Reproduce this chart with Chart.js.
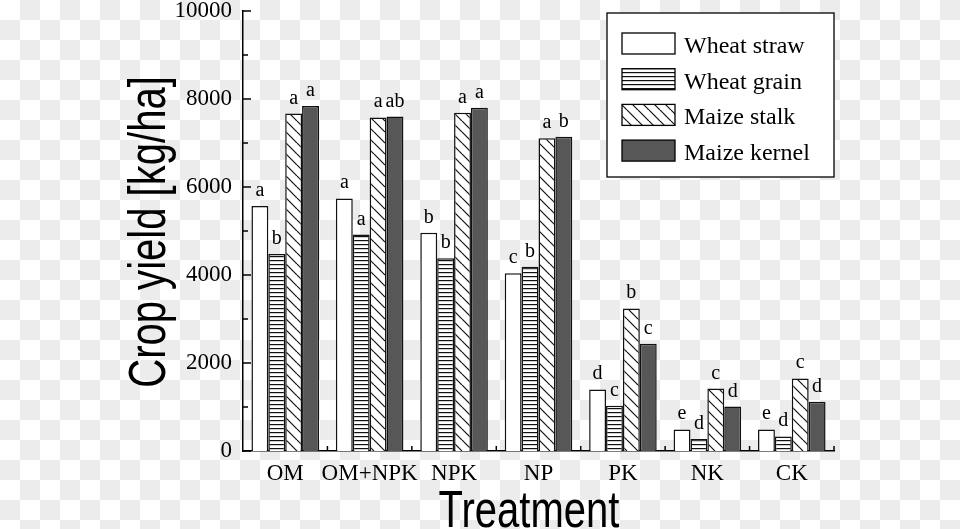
<!DOCTYPE html>
<html>
<head>
<meta charset="utf-8">
<script src="https://cdn.jsdelivr.net/npm/chart.js@4/dist/chart.umd.min.js"></script>
<style>
  html, body { margin: 0; padding: 0; }
  body {
    width: 960px; height: 529px; overflow: hidden;
    background: repeating-conic-gradient(#ececec 0% 25%, #ffffff 0% 50%) 0 0 / 40px 40px;
  }
  canvas { display: block; }
</style>
</head>
<body>
<canvas id="yield" width="960" height="529"></canvas>
<script>
const treatments = ['OM', 'OM+NPK', 'NPK', 'NP', 'PK', 'NK', 'CK'];
const seriesNames = ['Wheat straw', 'Wheat grain', 'Maize stalk', 'Maize kernel'];

const wheatStraw  = [5570, 5740, 4960, 4040, 1400, 490, 490];
const wheatGrain  = [4480, 4920, 4380, 4190, 1030, 270, 330];
const maizeStalk  = [7670, 7580, 7690, 7110, 3240, 1420, 1650];
const maizeKernel = [7840, 7600, 7800, 7140, 2440, 1010, 1120];

// significance letters above each bar
const strawSig  = ['a', 'a', 'b', 'c', 'd', 'e', 'e'];
const grainSig  = ['b', 'a', 'b', 'b', 'c', 'd', 'd'];
const stalkSig  = ['a', 'a', 'a', 'a', 'b', 'c', 'c'];
const kernelSig = ['a', 'ab', 'a', 'b', 'c', 'd', 'd'];

const yMin = 0, yMax = 10000, yStep = 2000, yMinorStep = 1000;

const serif = '"Liberation Serif", "Times New Roman", serif';
const sans = '"Liberation Sans", Arial, sans-serif';

function hLinePattern() {
    const c = document.createElement('canvas');
    c.width = 4; c.height = 4;
    const g = c.getContext('2d');
    g.fillStyle = '#fff';
    g.fillRect(0, 0, 4, 4);
    g.fillStyle = '#111';
    g.fillRect(0, 0, 4, 1.2);
    return g.createPattern(c, 'repeat');
}

function diagPattern() {
    const s = 11;
    const c = document.createElement('canvas');
    c.width = s; c.height = s;
    const g = c.getContext('2d');
    g.fillStyle = '#fff';
    g.fillRect(0, 0, s, s);
    g.strokeStyle = '#111';
    g.lineWidth = 1.2;
    [-s, 0, s].forEach(off => {
        g.beginPath();
        g.moveTo(off, 0);
        g.lineTo(off + s, s);
        g.stroke();
    });
    return g.createPattern(c, 'repeat');
}

const fills = ['#ffffff', hLinePattern(), diagPattern(), '#575757'];
const sigs = [strawSig, grainSig, stalkSig, kernelSig];

const decorations = {
    id: 'decorations',
    afterDraw(chart) {
        const ctx = chart.ctx;
        const x = chart.scales.x, y = chart.scales.y;
        const area = chart.chartArea;
        ctx.save();
        ctx.strokeStyle = '#000';
        ctx.lineWidth = 1.5;

        // inward y ticks, major and minor
        for (let v = yMin; v <= yMax; v += yMinorStep) {
            const py = y.getPixelForValue(v);
            const len = (v % yStep === 0) ? 8 : 5;
            ctx.beginPath();
            ctx.moveTo(area.left, py);
            ctx.lineTo(area.left + len, py);
            ctx.stroke();
        }
        // inward x ticks at group boundaries
        for (let i = 0; i < treatments.length; i++) {
            const px = x.getPixelForValue(i) + (x.getPixelForValue(1) - x.getPixelForValue(0)) / 2;
            ctx.beginPath();
            ctx.moveTo(px, area.bottom);
            ctx.lineTo(px, area.bottom - 5);
            ctx.stroke();
        }

        // significance letters
        ctx.fillStyle = '#000';
        ctx.font = '20px ' + serif;
        ctx.textAlign = 'center';
        ctx.textBaseline = 'alphabetic';
        chart.data.datasets.forEach((ds, di) => {
            chart.getDatasetMeta(di).data.forEach((bar, i) => {
                ctx.fillText(sigs[di][i], bar.x, bar.y - 10);
            });
        });

        // legend box
        const bx = 607, by = 13, bw = 227, bh = 164;
        ctx.fillStyle = '#fff';
        ctx.fillRect(bx, by, bw, bh);
        ctx.lineWidth = 1.3;
        ctx.strokeRect(bx, by, bw, bh);
        seriesNames.forEach((name, i) => {
            const top = 33 + i * 35.7;
            ctx.fillStyle = fills[i];
            ctx.fillRect(622, top, 53, 21);
            ctx.strokeStyle = '#000';
            ctx.lineWidth = 1.3;
            ctx.strokeRect(622, top, 53, 21);
            ctx.fillStyle = '#000';
            ctx.font = '24px ' + serif;
            ctx.textAlign = 'left';
            ctx.fillText(name, 684, top + 20);
        });

        // axis titles, narrow sans
        ctx.fillStyle = '#000';
        ctx.font = '52px ' + sans;
        ctx.textAlign = 'center';
        ctx.textBaseline = 'alphabetic';
        ctx.save();
        ctx.translate(165, 232);
        ctx.rotate(-Math.PI / 2);
        ctx.scale(0.77, 1);
        ctx.fillText('Crop yield [kg/ha]', 0, 0);
        ctx.restore();
        ctx.save();
        ctx.translate(529, 527);
        ctx.scale(0.77, 1);
        ctx.fillText('Treatment', 0, 0);
        ctx.restore();

        ctx.restore();
    }
};

const values = [wheatStraw, wheatGrain, maizeStalk, maizeKernel];

new Chart(document.getElementById('yield'), {
    type: 'bar',
    data: {
        labels: treatments,
        datasets: seriesNames.map((name, i) => ({
            label: name,
            data: values[i],
            backgroundColor: fills[i],
            borderColor: '#111',
            borderWidth: 1.5,
            categoryPercentage: 0.8,
            barPercentage: 1.0
        }))
    },
    options: {
        responsive: false,
        animation: false,
        devicePixelRatio: 1,
        layout: { padding: { left: 0, top: 11, right: 126, bottom: 0 }, autoPadding: false },
        plugins: { legend: { display: false }, tooltip: { enabled: false } },
        scales: {
            x: {
                grid: { display: false, drawTicks: false },
                border: { display: true, color: '#000', width: 1.5 },
                ticks: {
                    color: '#000', font: { family: serif, size: 23 },
                    padding: 9, maxRotation: 0, minRotation: 0, autoSkip: false
                },
                afterFit(scale) {
                    scale.height = 78;
                    scale.paddingLeft = 0;
                    scale.paddingRight = 0;
                }
            },
            y: {
                min: yMin, max: yMax,
                grid: { display: false, drawTicks: false },
                border: { display: true, color: '#000', width: 1.5 },
                ticks: {
                    stepSize: yStep, color: '#000',
                    font: { family: serif, size: 23 }, padding: 11,
                    callback: v => String(v)
                },
                afterFit(scale) {
                    scale.width = 243;
                    scale.paddingTop = 0;
                    scale.paddingBottom = 0;
                }
            }
        }
    },
    plugins: [decorations]
});
</script>
</body>
</html>
